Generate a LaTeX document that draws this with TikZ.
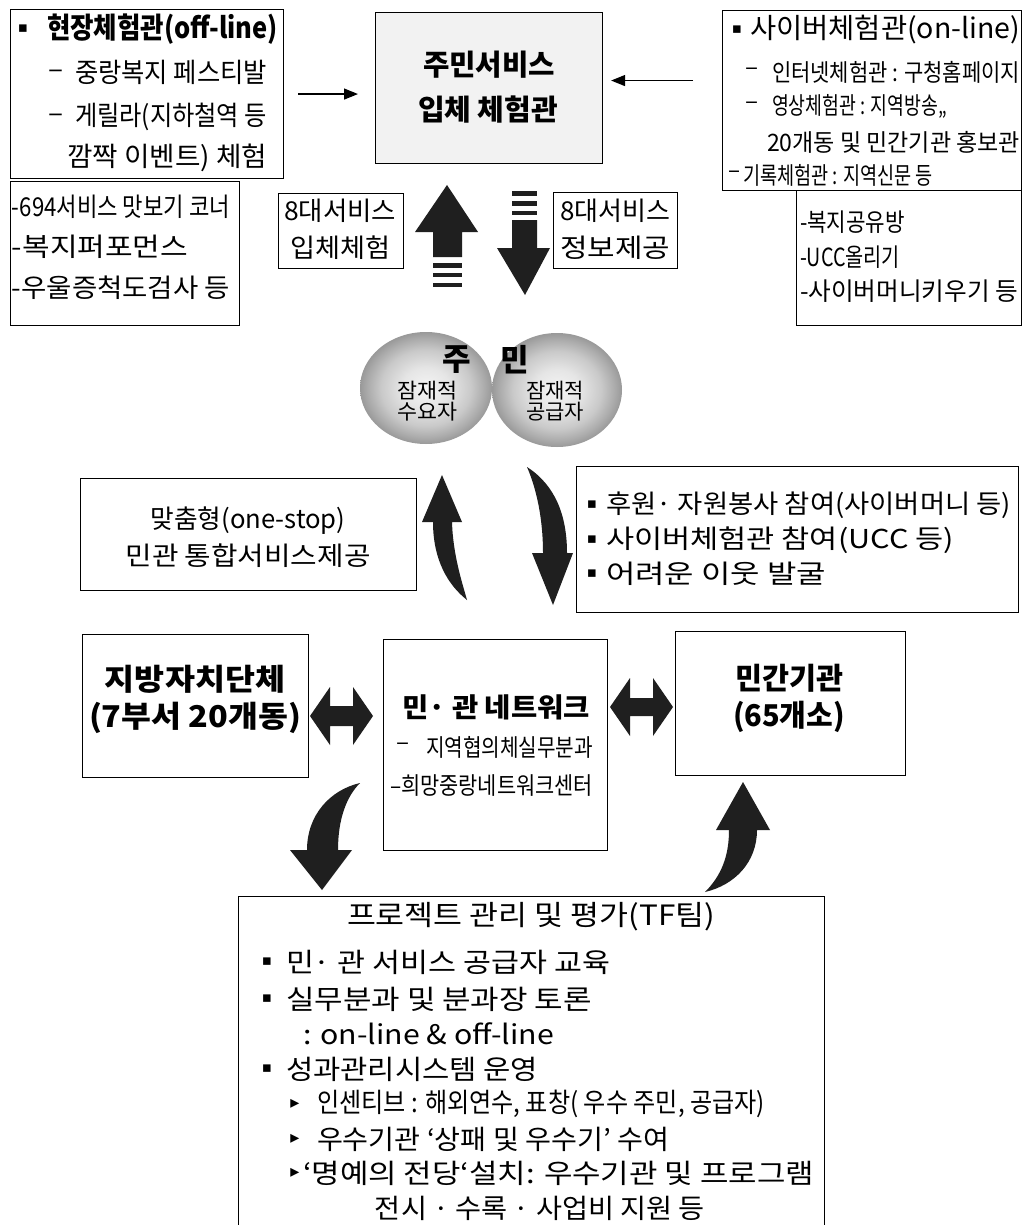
\documentclass[tikz,border=0pt]{standalone}
\usepackage{fontspec}
\setmainfont{Noto Sans CJK KR}
\newfontfamily\dvfont{DejaVu Sans}
\usetikzlibrary{arrows.meta,shapes.geometric}
\newcommand\fitw[2]{\resizebox{#1pt}{\height}{#2}}
\newcommand\txl[6]{\node[txt,anchor=west] (#1) at (#2,#3) {\fitw{#4}{\fontsize{#5}{#5}\selectfont #6}};}
\newcommand\txc[6]{\node[txt,anchor=center] (#1) at (#2,#3) {\fitw{#4}{\fontsize{#5}{#5}\selectfont #6}};}
\newcommand\bx[6][]{\node[box,#1,minimum width=#5pt,minimum height=#6pt] (#2) at (#3,#4) {};}
\newcommand\sqb[3]{\node[txt] (#1) at (#2,#3) {\dvfont\fontsize{15}{15}\selectfont ▪};}
\newcommand\trb[3]{\node[txt] (#1) at (#2,#3) {\dvfont\fontsize{18}{18}\selectfont ▸};}
\pgfdeclareradialshading{sphereshade}{\pgfpoint{0bp}{0bp}}{color(0bp)=(gray!8); color(9bp)=(gray!20); color(17bp)=(gray!42); color(22bp)=(gray!65); color(25bp)=(gray!80); color(50bp)=(gray!80)}
\tikzset{
  box/.style={draw,line width=1.1pt,inner sep=0pt,anchor=north west},
  txt/.style={inner sep=0pt,outer sep=0pt},
  conn/.style={line width=1.2pt,-{Triangle[length=14pt,width=11pt]}},
  fat/.style={fill=black!88},
  sph/.style={ellipse,shading=sphereshade,inner sep=0pt}
}
\begin{document}
\begin{tikzpicture}[x=1pt,y=-1pt]
\fill[white] (0,0) rectangle (1023,1225);
\useasboundingbox (0,0) rectangle (1023,1225);

% ---------- boxes ----------
\bx{A}{10}{9}{273}{169}
\bx{B}{10}{181}{229}{144}
\bx[fill=gray!10]{C}{375}{12}{227}{151}
\bx{D}{722}{10}{299}{180}
\bx{E}{796}{190}{225}{135}
\bx{F}{278}{193}{125}{75}
\bx{G}{553}{192}{124}{76}
\bx{M}{80}{478}{336}{112}
\bx{H}{576}{466}{442}{146}
\bx{I}{82}{634}{226}{143}
\bx{J}{383}{639}{224}{211}
\bx{K}{675}{631}{230}{144}
\bx{L}{238}{896}{586}{345}

% ---------- box A ----------
\sqb{aB}{23}{29}
\txl{a1}{47}{29}{231}{29}{\bfseries 현장체험관(off-line)}
\txl{a2d}{48}{74}{15}{27}{–}
\txl{a2}{75}{72}{192}{27}{중랑복지 페스티발}
\txl{a3d}{48}{118}{15}{27}{–}
\txl{a3}{75}{117}{192}{27}{게릴라(지하철역 등}
\txl{a4}{67}{158}{200}{27}{깜짝 이벤트) 체험}

% ---------- box B ----------
\txl{b1}{12}{207}{218}{26}{-694서비스 맛보기 코너}
\txl{b2}{12}{247}{176}{26}{-복지퍼포먼스}
\txl{b3}{12}{288}{218}{26}{-우울증척도검사 등}

% ---------- box C ----------
\txc{c1}{489}{65}{132}{29}{\bfseries 주민서비스}
\txc{c2}{488}{110}{140}{29}{\bfseries 입체 체험관}

% ---------- box D ----------
\sqb{dB}{737}{30}
\txl{d1}{750}{30}{270}{28}{사이버체험관(on-line)}
\txl{d2d}{745}{72}{13}{24}{–}
\txl{d2}{772}{72}{248}{24}{인터넷체험관 : 구청홈페이지}
\txl{d3d}{745}{106}{13}{24}{–}
\txl{d3}{772}{106}{175}{24}{영상체험관 : 지역방송,,}
\txl{d4}{767}{142}{253}{24}{20개동 및 민간기관 홍보관}
\txl{d5d}{728}{175}{12}{24}{–}
\txl{d5}{743}{175}{190}{24}{기록체험관 : 지역신문 등}

% ---------- box E ----------
\txl{e1}{800}{222}{105}{25}{-복지공유방}
\txl{e2}{800}{257}{100}{25}{-UCC올리기}
\txl{e3}{800}{291}{218}{25}{-사이버머니키우기 등}

% ---------- F, G ----------
\txl{f1}{284}{211}{112}{26}{8대서비스}
\txl{f2}{290}{248}{100}{26}{입체체험}
\txl{g1}{560}{211}{110}{26}{8대서비스}
\txl{g2}{560}{248}{110}{26}{정보제공}

% ---------- thin arrows ----------
\draw[conn,shorten <=14pt,shorten >=17pt] (A.east) -- (A.east -| C.west);
\coordinate (dc) at ([yshift=20pt]D.west);
\draw[conn,shorten <=29pt,shorten >=8pt] (dc) -- (dc -| C.east);

% ---------- straight fat arrows ----------
\fill[fat] (447,185) -- (478,232) -- (462,232) -- (462,257) -- (433,257) -- (433,232) -- (415,232) -- cycle;
\fill[fat] (433,263) rectangle (462,268);
\fill[fat] (433,273) rectangle (462,277);
\fill[fat] (433,283) rectangle (462,287);
\fill[fat] (512,191) rectangle (537,196);
\fill[fat] (512,201) rectangle (537,206);
\fill[fat] (512,211) rectangle (537,215);
\fill[fat] (512,220) -- (537,220) -- (537,248) -- (550,248) -- (525,295) -- (497,248) -- (512,248) -- cycle;

% ---------- spheres ----------
\node[sph,minimum width=132pt,minimum height=112pt] (s1) at (426,388) {};
\node[sph,minimum width=130pt,minimum height=114pt] (s2) at (557,390) {};
\node[txt] (ju) at (457,360) {\fontsize{31}{31}\selectfont\bfseries 주};
\node[txt] (min) at (515,360) {\fontsize{31}{31}\selectfont\bfseries 민};
\txc{s1a}{427}{391}{60}{21}{잠재적}
\txc{s1b}{427}{412}{60}{21}{수요자}
\txc{s2a}{555}{391}{58}{21}{잠재적}
\txc{s2b}{555}{412}{58}{21}{공급자}

% ---------- middle curved arrows ----------
\fill[fat] (442,475) -- (462,522) -- (452,522) .. controls (453,555) and (462,582) .. (467,600) .. controls (448,585) and (433,560) .. (433,522) -- (422,522) -- cycle;
\fill[fat] (527,467) .. controls (555,485) and (567,515) .. (567,553) -- (573,553) -- (553,605) -- (532,553) -- (543,553) .. controls (543,520) and (537,490) .. (527,467) -- cycle;

% ---------- box M ----------
\txc{m1}{248}{521}{195}{26}{맞춤형(one-stop)}
\txc{m2}{248}{556}{245}{26}{민관 통합서비스제공}

% ---------- box H ----------
\sqb{hB1}{592}{505}
\sqb{hB2}{592}{540}
\sqb{hB3}{592}{574}
\txl{h1}{606}{505}{405}{26}{후원· 자원봉사 참여(사이버머니 등)}
\txl{h2}{606}{540}{348}{26}{사이버체험관 참여(UCC 등)}
\txl{h3}{606}{574}{220}{26}{어려운 이웃 발굴}

% ---------- row boxes ----------
\txc{i1}{195}{679}{180}{30}{\bfseries 지방자치단체}
\txc{i2}{195}{718}{212}{30}{\bfseries (7부서 20개동)}
\txl{j1}{402}{707}{188}{27}{\bfseries 민· 관 네트워크}
\txl{j2d}{396}{747}{13}{24}{–}
\txl{j2}{426}{747}{167}{24}{지역협의체실무분과}
\txl{j3}{390}{786}{203}{24}{–희망중랑네트워크센터}
\txc{k1}{789}{678}{108}{30}{\bfseries 민간기관}
\txc{k2}{789}{717}{112}{30}{\bfseries (65개소)}

% ---------- double arrows ----------
\fill[fat] (310,716) -- (330,687) -- (330,706) -- (353,706) -- (353,687) -- (373,716) -- (353,745) -- (353,726) -- (330,726) -- (330,745) -- cycle;
\fill[fat] (610,707) -- (630,678) -- (630,698) -- (653,698) -- (653,678) -- (673,707) -- (653,736) -- (653,716) -- (630,716) -- (630,736) -- cycle;

% ---------- bottom curved arrows ----------
\fill[fat] (360,783) .. controls (330,790) and (307,815) .. (307,850) -- (290,850) -- (322,890) -- (352,850) -- (338,850) .. controls (338,820) and (346,797) .. (360,783) -- cycle;
\fill[fat] (743,782) -- (770,830) -- (757,830) .. controls (757,862) and (735,885) .. (705,892) .. controls (722,875) and (729,855) .. (729,830) -- (716,830) -- cycle;

% ---------- box L ----------
\txc{l0}{531}{917}{368}{28}{프로젝트 관리 및 평가(TF팀)}
\sqb{lB1}{267}{962}
\sqb{lB2}{267}{999}
\sqb{lB4}{267}{1069}
\txl{l1}{286}{962}{324}{27}{민· 관 서비스 공급자 교육}
\txl{l2}{286}{999}{306}{27}{실무분과 및 분과장 토론}
\txl{l3}{303}{1034}{251}{27}{: on-line \& off-line}
\txl{l4}{286}{1069}{252}{27}{성과관리시스템 운영}
\trb{lT5}{295}{1104}
\trb{lT6}{295}{1139}
\trb{lT7}{295}{1173}
\txl{l5}{317}{1104}{448}{27}{인센티브 : 해외연수, 표창( 우수 주민, 공급자)}
\txl{l6}{317}{1139}{352}{27}{우수기관 ‘상패 및 우수기’ 수여}
\txl{l7}{303}{1173}{511}{27}{‘명예의 전당‘설치: 우수기관 및 프로그램}
\txc{l8}{540}{1208}{330}{27}{전시 · 수록 · 사업비 지원 등}
\end{tikzpicture}
\end{document}
